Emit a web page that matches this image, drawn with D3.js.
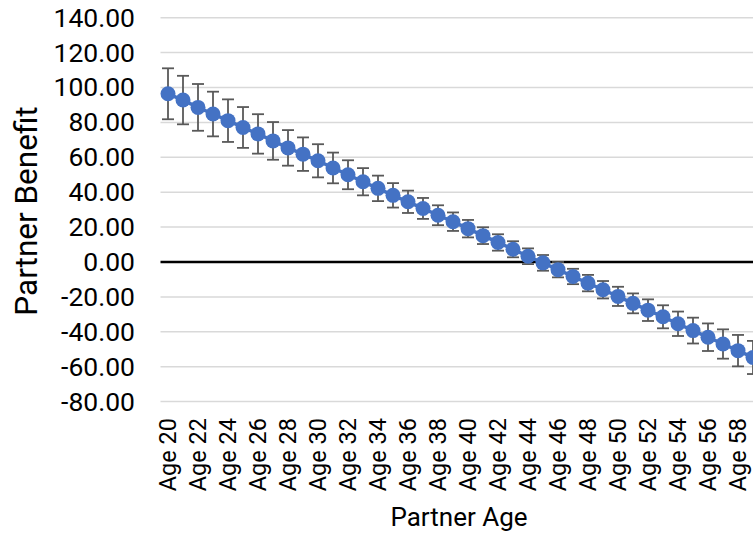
<!DOCTYPE html>
<html>
<head>
<meta charset="utf-8">
<script src="https://cdn.jsdelivr.net/npm/d3@7"></script>
<style>
  html, body { margin: 0; padding: 0; background: #fff; }
  svg { display: block; font-family: Roboto, "Noto Sans", sans-serif; }
</style>
</head>
<body>
<svg id="chart" width="753" height="535"></svg>
<script>
const categories = ["Age 20","Age 21","Age 22","Age 23","Age 24","Age 25","Age 26","Age 27","Age 28","Age 29",
  "Age 30","Age 31","Age 32","Age 33","Age 34","Age 35","Age 36","Age 37","Age 38","Age 39",
  "Age 40","Age 41","Age 42","Age 43","Age 44","Age 45","Age 46","Age 47","Age 48","Age 49",
  "Age 50","Age 51","Age 52","Age 53","Age 54","Age 55","Age 56","Age 57","Age 58","Age 59"];
const benefit = [96.4, 92.8, 88.6, 84.8, 81.0, 77.1, 73.4, 69.4, 65.4, 61.8,
  58.0, 53.9, 50.0, 46.0, 42.2, 38.2, 34.5, 30.7, 26.8, 23.1,
  19.1, 15.1, 11.2, 7.3, 3.3, -0.5, -4.4, -8.3, -12.1, -15.9,
  -19.7, -23.7, -27.6, -31.4, -35.4, -39.3, -43.1, -47.0, -50.8, -54.7];
const errorHalf = [14.6, 13.9, 13.4, 12.8, 12.2, 11.7, 11.3, 10.8, 10.2, 9.6,
  9.5, 8.8, 8.3, 7.8, 7.3, 7.0, 6.4, 6.0, 5.7, 5.3,
  5.0, 4.8, 4.7, 4.6, 4.5, 4.5, 4.4, 4.4, 4.7, 5.0,
  5.5, 5.7, 6.2, 6.6, 7.0, 7.4, 7.9, 8.4, 9.0, 9.5];
const yTicks = [-80, -60, -40, -20, 0, 20, 40, 60, 80, 100, 120, 140];
const xTickLabels = categories.filter((d, i) => i % 2 === 0);

const svg = d3.select("#chart");
const plotLeft = 160.5;

const x = d3.scaleBand().domain(categories).range([plotLeft, plotLeft + 15 * categories.length]).padding(0);
const y = d3.scaleLinear().domain([-80, 140]).range([401.6, 17.7]);
const cx = d => x(d) + x.bandwidth() / 2;

// gridlines
svg.append("g").selectAll("line").data(yTicks.filter(t => t !== 0)).join("line")
  .attr("x1", plotLeft).attr("x2", 753)
  .attr("y1", d => y(d)).attr("y2", d => y(d))
  .attr("stroke", "#d9d9d9").attr("stroke-width", 1.5);

// y axis labels
const fmt = d => d3.format(".2f")(d).replace("\u2212", "-");
const yAxis = d3.axisLeft(y).tickValues(yTicks).tickFormat(fmt).tickSize(0).tickPadding(0);
const ya = svg.append("g").attr("transform", "translate(135,0)").call(yAxis);
ya.select(".domain").remove();
ya.selectAll("text").attr("font-size", 26.5).attr("fill", "#000").attr("font-family", "Roboto");

// zero line
svg.append("line").attr("x1", plotLeft).attr("x2", 753)
  .attr("y1", y(0)).attr("y2", y(0)).attr("stroke", "#000").attr("stroke-width", 2.5);

// x axis labels
const xAxis = d3.axisBottom(x).tickValues(xTickLabels).tickSize(0).tickPadding(0);
const xa = svg.append("g").attr("transform", "translate(0,418)").call(xAxis);
xa.select(".domain").remove();
xa.selectAll("text").attr("font-size", 23.5).attr("fill", "#000").attr("font-family", "Roboto")
  .attr("text-anchor", "end").attr("dy", null).attr("y", 0).attr("x", 0)
  .attr("transform", "rotate(-90) translate(0,8)");

// error bars
const eb = svg.append("g").attr("stroke", "#595959").attr("stroke-width", 1.8);
categories.forEach((c, i) => {
  const xc = cx(c), top = y(benefit[i] + errorHalf[i]), bot = y(benefit[i] - errorHalf[i]);
  eb.append("line").attr("x1", xc).attr("x2", xc).attr("y1", top).attr("y2", bot);
  eb.append("line").attr("x1", xc - 6).attr("x2", xc + 6).attr("y1", top).attr("y2", top);
  eb.append("line").attr("x1", xc - 6).attr("x2", xc + 6).attr("y1", bot).attr("y2", bot);
});

// line
const line = d3.line().x((d, i) => cx(categories[i])).y(d => y(d));
svg.append("path").datum(benefit).attr("d", line).attr("fill", "none")
  .attr("stroke", "#4472c4").attr("stroke-width", 3.5);

// markers
svg.append("g").selectAll("circle").data(benefit).join("circle")
  .attr("cx", (d, i) => cx(categories[i])).attr("cy", d => y(d)).attr("r", 7.5)
  .attr("fill", "#4472c4");

// titles
svg.append("text").attr("x", 459).attr("y", 526).attr("text-anchor", "middle")
  .attr("font-size", 26).attr("fill", "#000").text("Partner Age");
svg.append("text").attr("transform", "translate(37,211) rotate(-90)").attr("text-anchor", "middle")
  .attr("font-size", 31.5).attr("fill", "#000").text("Partner Benefit");
</script>
</body>
</html>
